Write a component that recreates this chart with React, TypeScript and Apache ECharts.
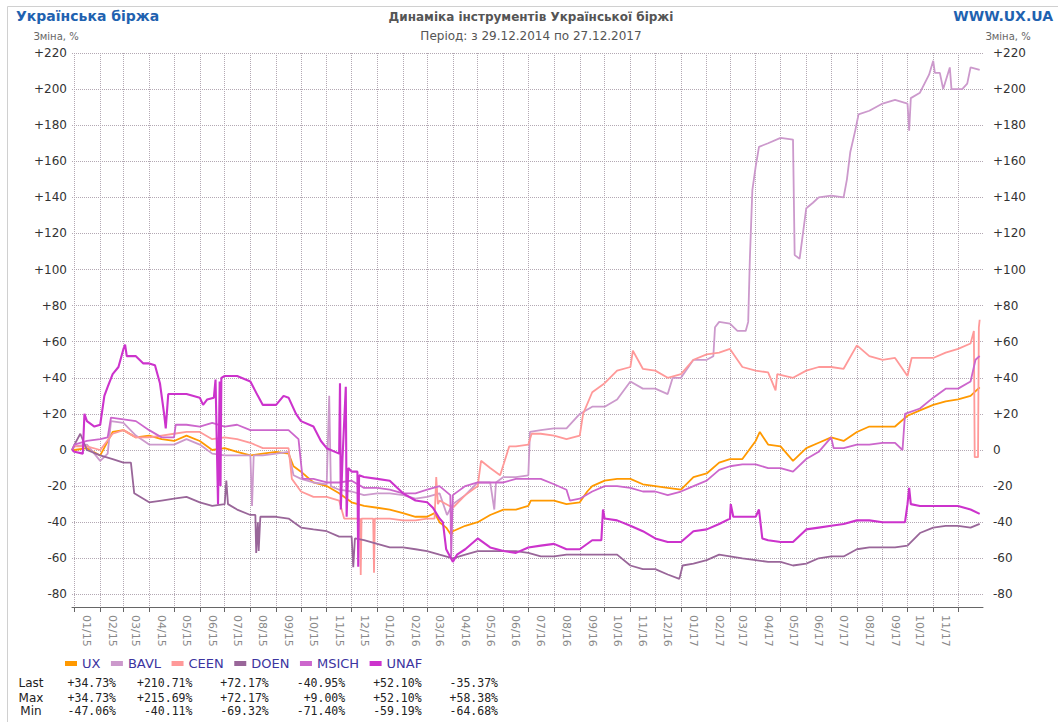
import React, { useEffect, useRef } from "react";
import * as echarts from "echarts";

// ---------- data ----------
const seriesNames = ["UX", "BAVL", "CEEN", "DOEN", "MSICH", "UNAF"];
const seriesColors = ["#ff9900", "#cc99cc", "#ff9999", "#996699", "#cc66cc", "#cc33cc"];

const uxData: [string, number][] = [
  ["2014-12-29", 0], ["2015-01-01", 0], ["2015-01-16", 1], ["2015-02-01", -3], ["2015-02-16", 10],
  ["2015-03-01", 11], ["2015-03-16", 7], ["2015-04-01", 8], ["2015-04-16", 6], ["2015-05-01", 5],
  ["2015-05-16", 8], ["2015-06-01", 5], ["2015-06-16", 0], ["2015-07-01", 1], ["2015-07-16", -1],
  ["2015-08-01", -3], ["2015-08-16", -2], ["2015-09-01", -1], ["2015-09-16", -2], ["2015-09-22", -9],
  ["2015-10-01", -12], ["2015-10-16", -18], ["2015-11-01", -20], ["2015-11-16", -24], ["2015-12-01", -29],
  ["2015-12-16", -31], ["2016-01-01", -32], ["2016-01-16", -33], ["2016-02-01", -35], ["2016-02-16", -37],
  ["2016-03-01", -37], ["2016-03-10", -35], ["2016-03-16", -40], ["2016-03-24", -43], ["2016-03-30", -47.06],
  ["2016-04-01", -45], ["2016-04-16", -42], ["2016-05-01", -40], ["2016-05-16", -36], ["2016-06-01", -33],
  ["2016-06-16", -33], ["2016-07-01", -31], ["2016-07-04", -28], ["2016-07-16", -28], ["2016-08-01", -28],
  ["2016-08-16", -30], ["2016-09-01", -29], ["2016-09-10", -23], ["2016-09-16", -20], ["2016-10-01", -17],
  ["2016-10-16", -16], ["2016-11-01", -16], ["2016-11-16", -19], ["2016-12-01", -20], ["2016-12-16", -21],
  ["2017-01-01", -22], ["2017-01-16", -15], ["2017-02-01", -13], ["2017-02-16", -7], ["2017-03-01", -5],
  ["2017-03-16", -5], ["2017-04-01", 5], ["2017-04-06", 10], ["2017-04-16", 3], ["2017-05-01", 2],
  ["2017-05-16", -6], ["2017-06-01", 1], ["2017-06-16", 4], ["2017-07-01", 7], ["2017-07-16", 5],
  ["2017-08-01", 10], ["2017-08-16", 13], ["2017-09-01", 13], ["2017-09-16", 13], ["2017-10-01", 19],
  ["2017-10-16", 22], ["2017-11-01", 25], ["2017-11-16", 27], ["2017-12-01", 28], ["2017-12-16", 30],
  ["2017-12-27", 34.73],
];

const bavlData: [string, number][] = [
  ["2014-12-29", 0], ["2015-01-01", 2], ["2015-01-16", 3], ["2015-02-01", -6], ["2015-02-10", -2],
  ["2015-02-14", 16], ["2015-03-01", 15], ["2015-03-16", 8], ["2015-04-01", 3], ["2015-04-16", 3],
  ["2015-05-01", 3], ["2015-05-16", 6], ["2015-06-01", 3], ["2015-06-16", -2], ["2015-07-01", -3],
  ["2015-07-16", -3], ["2015-08-01", -3], ["2015-08-03", -31], ["2015-08-05", -3], ["2015-08-16", -3],
  ["2015-09-01", -2], ["2015-09-16", -1], ["2015-09-22", -14], ["2015-10-01", -16], ["2015-10-16", -18],
  ["2015-11-01", -19], ["2015-11-04", 30], ["2015-11-06", -20], ["2015-11-16", -22], ["2015-12-01", -23],
  ["2015-12-16", -25], ["2016-01-01", -24], ["2016-01-16", -24], ["2016-02-01", -25], ["2016-02-16", -27],
  ["2016-03-01", -26], ["2016-03-16", -24], ["2016-03-25", -36], ["2016-04-01", -30], ["2016-04-16", -25],
  ["2016-05-01", -18], ["2016-05-16", -18], ["2016-05-21", -33], ["2016-05-23", -18], ["2016-06-01", -15],
  ["2016-06-16", -15], ["2016-07-01", -14], ["2016-07-03", 10], ["2016-07-16", 11], ["2016-08-01", 12],
  ["2016-08-16", 12], ["2016-09-01", 20], ["2016-09-16", 24], ["2016-10-01", 24], ["2016-10-16", 28],
  ["2016-11-01", 38], ["2016-11-16", 34], ["2016-12-01", 34], ["2016-12-16", 31], ["2016-12-22", 40],
  ["2017-01-01", 40], ["2017-01-16", 50], ["2017-02-01", 50], ["2017-02-09", 52], ["2017-02-11", 68],
  ["2017-02-16", 71], ["2017-03-01", 70], ["2017-03-10", 66], ["2017-03-20", 66], ["2017-03-23", 71],
  ["2017-03-25", 106], ["2017-03-28", 144], ["2017-04-01", 157], ["2017-04-05", 168], ["2017-04-16", 170],
  ["2017-05-01", 173], ["2017-05-16", 172], ["2017-05-18", 108], ["2017-05-24", 106], ["2017-05-28", 120],
  ["2017-06-01", 134], ["2017-06-09", 137], ["2017-06-16", 140], ["2017-07-01", 141], ["2017-07-16", 140],
  ["2017-07-20", 150], ["2017-07-24", 165], ["2017-07-30", 177], ["2017-08-03", 186], ["2017-08-16", 188],
  ["2017-09-01", 192], ["2017-09-16", 194], ["2017-10-01", 192], ["2017-10-03", 177], ["2017-10-05", 195],
  ["2017-10-16", 198], ["2017-10-27", 208], ["2017-11-01", 215.69], ["2017-11-03", 209], ["2017-11-09", 209],
  ["2017-11-13", 200], ["2017-11-21", 212], ["2017-11-23", 200], ["2017-12-06", 200], ["2017-12-12", 203],
  ["2017-12-16", 212], ["2017-12-27", 210.71],
];

const ceenData: [string, number][] = [
  ["2014-12-29", 0], ["2015-01-01", 2], ["2015-01-16", 2], ["2015-02-01", 0], ["2015-02-16", 9],
  ["2015-03-01", 11], ["2015-03-16", 7], ["2015-04-01", 7], ["2015-04-16", 8], ["2015-05-01", 9],
  ["2015-05-16", 10], ["2015-06-01", 10], ["2015-06-16", 6], ["2015-07-01", 7], ["2015-07-16", 6],
  ["2015-08-01", 4], ["2015-08-16", 1], ["2015-09-01", 1], ["2015-09-16", 1], ["2015-09-20", -16],
  ["2015-10-01", -23], ["2015-10-16", -26], ["2015-11-01", -26], ["2015-11-16", -28], ["2015-11-22", -38],
  ["2015-12-11", -38], ["2015-12-12", -69.32], ["2015-12-13", -38], ["2015-12-27", -38], ["2015-12-28", -68],
  ["2015-12-29", -38], ["2016-01-16", -38], ["2016-02-01", -39], ["2016-02-16", -39], ["2016-03-01", -38],
  ["2016-03-10", -38], ["2016-03-12", -15], ["2016-03-14", -30], ["2016-03-16", -28], ["2016-04-01", -32],
  ["2016-04-16", -25], ["2016-05-01", -20], ["2016-05-05", -6], ["2016-05-16", -10], ["2016-05-28", -14],
  ["2016-06-08", 2], ["2016-06-16", 2], ["2016-07-01", 3], ["2016-07-05", 9], ["2016-07-16", 9],
  ["2016-08-01", 8], ["2016-08-16", 6], ["2016-09-01", 8], ["2016-09-05", 20], ["2016-09-16", 32],
  ["2016-10-01", 37], ["2016-10-16", 44], ["2016-11-01", 46], ["2016-11-04", 55], ["2016-11-16", 45],
  ["2016-12-01", 44], ["2016-12-16", 40], ["2017-01-01", 42], ["2017-01-16", 50], ["2017-02-01", 53],
  ["2017-02-16", 54], ["2017-03-01", 56], ["2017-03-16", 46], ["2017-04-01", 44], ["2017-04-16", 43],
  ["2017-04-25", 33], ["2017-04-27", 42], ["2017-05-16", 40], ["2017-06-01", 44], ["2017-06-16", 46],
  ["2017-07-01", 46], ["2017-07-16", 45], ["2017-08-01", 58], ["2017-08-16", 52], ["2017-09-01", 50],
  ["2017-09-16", 51], ["2017-10-01", 41], ["2017-10-06", 51], ["2017-10-16", 51], ["2017-11-01", 51],
  ["2017-11-16", 54], ["2017-12-01", 56], ["2017-12-16", 59], ["2017-12-20", 66], ["2017-12-21", -4],
  ["2017-12-25", -4], ["2017-12-26", 68], ["2017-12-27", 72.17],
];

const doenData: [string, number][] = [
  ["2014-12-29", 0], ["2015-01-01", 3], ["2015-01-08", 9], ["2015-01-16", 0], ["2015-02-01", -3],
  ["2015-02-16", -5], ["2015-03-01", -7], ["2015-03-10", -7], ["2015-03-14", -24], ["2015-04-01", -29],
  ["2015-04-16", -28], ["2015-05-01", -27], ["2015-05-16", -26], ["2015-06-01", -29], ["2015-06-16", -31],
  ["2015-07-01", -30], ["2015-07-03", -17], ["2015-07-05", -30], ["2015-07-16", -33], ["2015-08-01", -36],
  ["2015-08-07", -36], ["2015-08-08", -57], ["2015-08-10", -40], ["2015-08-11", -56], ["2015-08-13", -37],
  ["2015-08-16", -37], ["2015-09-01", -37], ["2015-09-16", -38], ["2015-10-01", -43], ["2015-10-16", -44],
  ["2015-11-01", -45], ["2015-11-16", -48], ["2015-12-01", -48], ["2015-12-03", -65], ["2015-12-05", -49],
  ["2015-12-16", -50], ["2016-01-01", -52], ["2016-01-16", -54], ["2016-02-01", -54], ["2016-02-16", -55],
  ["2016-03-01", -56], ["2016-03-16", -58], ["2016-04-01", -60], ["2016-04-16", -58], ["2016-05-01", -56],
  ["2016-05-16", -56], ["2016-06-01", -56], ["2016-06-16", -56], ["2016-07-01", -57], ["2016-07-16", -59],
  ["2016-08-01", -59], ["2016-08-16", -58], ["2016-09-01", -58], ["2016-09-16", -58], ["2016-10-01", -58],
  ["2016-10-16", -58], ["2016-11-01", -64], ["2016-11-16", -66], ["2016-12-01", -66], ["2016-12-16", -69],
  ["2016-12-30", -71.4], ["2017-01-03", -64], ["2017-01-16", -63], ["2017-02-01", -61], ["2017-02-16", -58],
  ["2017-03-01", -59], ["2017-03-16", -60], ["2017-04-01", -61], ["2017-04-16", -62], ["2017-05-01", -62],
  ["2017-05-16", -64], ["2017-06-01", -63], ["2017-06-16", -60], ["2017-07-01", -59], ["2017-07-16", -59],
  ["2017-08-01", -55], ["2017-08-16", -54], ["2017-09-01", -54], ["2017-09-16", -54], ["2017-10-01", -53],
  ["2017-10-16", -46], ["2017-11-01", -43], ["2017-11-16", -42], ["2017-12-01", -42], ["2017-12-16", -43],
  ["2017-12-27", -40.95],
];

const msichData: [string, number][] = [
  ["2014-12-29", 0], ["2015-01-01", 3], ["2015-01-16", 5], ["2015-02-01", 6], ["2015-02-10", 7],
  ["2015-02-14", 18], ["2015-03-01", 17], ["2015-03-16", 16], ["2015-04-01", 11], ["2015-04-16", 7],
  ["2015-05-01", 7], ["2015-05-03", 14], ["2015-05-16", 14], ["2015-06-01", 13], ["2015-06-16", 15],
  ["2015-07-01", 13], ["2015-07-16", 14], ["2015-08-01", 11], ["2015-08-16", 11], ["2015-09-01", 11],
  ["2015-09-16", 11], ["2015-09-28", 6], ["2015-10-03", -16], ["2015-10-16", -16], ["2015-11-01", -18],
  ["2015-11-16", -18], ["2015-12-01", -17], ["2015-12-16", -21], ["2016-01-01", -21], ["2016-01-16", -22],
  ["2016-02-01", -24], ["2016-02-16", -24], ["2016-03-01", -22], ["2016-03-16", -20], ["2016-03-29", -25],
  ["2016-03-30", -59.19], ["2016-04-01", -25], ["2016-04-16", -20], ["2016-05-01", -18], ["2016-05-16", -18],
  ["2016-06-01", -18], ["2016-06-16", -16], ["2016-07-01", -16], ["2016-07-16", -16], ["2016-08-01", -19],
  ["2016-08-16", -22], ["2016-08-20", -28], ["2016-09-01", -27], ["2016-09-16", -23], ["2016-10-01", -20],
  ["2016-10-16", -20], ["2016-11-01", -21], ["2016-11-16", -23], ["2016-12-01", -23], ["2016-12-16", -25],
  ["2017-01-01", -23], ["2017-01-16", -20], ["2017-02-01", -17], ["2017-02-16", -11], ["2017-03-01", -9],
  ["2017-03-16", -8], ["2017-04-01", -8], ["2017-04-16", -10], ["2017-05-01", -10], ["2017-05-16", -12],
  ["2017-06-01", -5], ["2017-06-16", -1], ["2017-07-01", 7], ["2017-07-04", 1], ["2017-07-16", 1],
  ["2017-08-01", 3], ["2017-08-16", 3], ["2017-09-01", 4], ["2017-09-16", 4], ["2017-09-25", 0],
  ["2017-09-28", 20], ["2017-10-16", 23], ["2017-11-01", 29], ["2017-11-16", 34], ["2017-12-01", 34],
  ["2017-12-16", 38], ["2017-12-22", 50], ["2017-12-27", 52.1],
];

const unafData: [string, number][] = [
  ["2014-12-29", 0], ["2015-01-01", -1], ["2015-01-11", -2], ["2015-01-13", 20], ["2015-01-16", 16],
  ["2015-01-25", 13], ["2015-02-01", 14], ["2015-02-06", 30], ["2015-02-10", 35], ["2015-02-16", 42],
  ["2015-02-23", 46], ["2015-03-01", 56], ["2015-03-03", 58.38], ["2015-03-05", 52], ["2015-03-16", 52],
  ["2015-03-25", 48], ["2015-04-01", 48], ["2015-04-08", 47], ["2015-04-14", 37], ["2015-04-19", 20],
  ["2015-04-21", 12], ["2015-04-24", 31], ["2015-05-01", 31], ["2015-05-16", 31], ["2015-06-01", 29],
  ["2015-06-05", 25], ["2015-06-10", 28], ["2015-06-18", 29], ["2015-06-20", 39], ["2015-06-23", -30],
  ["2015-06-25", 38], ["2015-06-26", -20], ["2015-06-27", 40], ["2015-07-01", 41], ["2015-07-16", 41],
  ["2015-08-01", 38], ["2015-08-10", 30], ["2015-08-16", 25], ["2015-09-01", 25], ["2015-09-10", 30],
  ["2015-09-16", 29], ["2015-09-25", 20], ["2015-10-01", 16], ["2015-10-16", 13], ["2015-10-25", 5],
  ["2015-11-01", 1], ["2015-11-16", -2], ["2015-11-17", 37], ["2015-11-18", -33], ["2015-11-20", -5],
  ["2015-11-24", 35], ["2015-11-25", -37], ["2015-11-27", -10], ["2015-12-01", -12], ["2015-12-08", -12],
  ["2015-12-09", -64.68], ["2015-12-10", -14], ["2015-12-16", -15], ["2016-01-01", -16], ["2016-01-16", -17],
  ["2016-02-01", -24], ["2016-02-16", -28], ["2016-03-01", -29], ["2016-03-08", -32], ["2016-03-16", -38],
  ["2016-03-20", -40], ["2016-03-24", -55], ["2016-04-01", -62], ["2016-04-06", -58], ["2016-04-16", -55],
  ["2016-05-01", -49], ["2016-05-16", -54], ["2016-06-01", -56], ["2016-06-16", -57], ["2016-07-01", -54],
  ["2016-07-16", -53], ["2016-08-01", -52], ["2016-08-16", -55], ["2016-09-01", -55], ["2016-09-16", -50],
  ["2016-09-27", -50], ["2016-09-29", -33], ["2016-10-01", -38], ["2016-10-16", -39], ["2016-11-01", -42],
  ["2016-11-16", -45], ["2016-12-01", -49], ["2016-12-16", -51], ["2017-01-01", -51], ["2017-01-16", -45],
  ["2017-02-01", -44], ["2017-02-16", -41], ["2017-03-01", -38], ["2017-03-02", -30], ["2017-03-05", -37],
  ["2017-03-16", -37], ["2017-04-01", -37], ["2017-04-05", -33], ["2017-04-09", -49], ["2017-04-16", -50],
  ["2017-05-01", -51], ["2017-05-16", -51], ["2017-06-01", -44], ["2017-06-16", -43], ["2017-07-01", -42],
  ["2017-07-16", -41], ["2017-08-01", -39], ["2017-08-16", -39], ["2017-09-01", -40], ["2017-09-16", -40],
  ["2017-09-28", -40], ["2017-10-01", -30], ["2017-10-03", -21], ["2017-10-05", -30], ["2017-10-16", -31],
  ["2017-11-01", -31], ["2017-11-16", -31], ["2017-12-01", -31], ["2017-12-16", -33], ["2017-12-27", -35.37],
];

const lastValues = [34.73, 210.71, 72.17, -40.95, 52.1, -35.37];
const maxValues = [34.73, 215.69, 72.17, 9.0, 52.1, 58.38];
const minValues = [-47.06, -40.11, -69.32, -71.4, -59.19, -64.68];
const statRows = ["Last", "Max", "Min"];

const yTickValues = [-80, -60, -40, -20, 0, 20, 40, 60, 80, 100, 120, 140, 160, 180, 200, 220];
const yMin = -87;
const yMax = 220;
const periodStart = "2014-12-29";
const periodEnd = "2017-12-31";

// ---------- helpers ----------
const toTs = (s: string) => {
  const [y, m, d] = s.split("-").map(Number);
  return Date.UTC(y, m - 1, d);
};
const pad2 = (n: number) => (n < 10 ? "0" + n : "" + n);
const monthStarts: number[] = [];
const monthLabelAt: number[] = [];
const monthTickLabels: string[] = [];
for (let y = 2015; y <= 2017; y++) {
  for (let m = 0; m < 12; m++) {
    monthStarts.push(Date.UTC(y, m, 1));
    if (!(y === 2017 && m === 11)) {
      monthLabelAt.push(Date.UTC(y, m, 16));
      monthTickLabels.push(pad2(m + 1) + "/" + String(y).slice(2));
    }
  }
}
const fmtY = (v: number) => (v > 0 ? "+" + v : "" + v);
const fmtPct = (v: number) => (v >= 0 ? "+" : "-") + Math.abs(v).toFixed(2) + "%";

const allData = [uxData, bavlData, ceenData, doenData, msichData, unafData];

const FONT = "DejaVu Sans";

export default function App() {
  const ref = useRef<HTMLDivElement>(null);
  useEffect(() => {
    if (!ref.current) return;
    const chart = echarts.init(ref.current, null, { renderer: "svg" });
    const gridLine = { show: true, lineStyle: { color: "#b3a8b3", type: "dotted" as const, width: 1 } };

    const baseGraphics: any[] = [
      { type: "line", shape: { x1: 7.5, y1: 6.5, x2: 1058, y2: 6.5 }, style: { stroke: "#d0d0d0", lineWidth: 1 } },
      { type: "line", shape: { x1: 7.5, y1: 6.5, x2: 7.5, y2: 722 }, style: { stroke: "#d0d0d0", lineWidth: 1 } },
      {
        type: "text",
        left: 16,
        top: 9,
        style: { text: "Українська біржа", font: "bold 14px " + FONT, fill: "#1f62b0" },
      },
      {
        type: "text",
        right: 5,
        top: 9,
        style: { text: "WWW.UX.UA", font: "bold 14px " + FONT, fill: "#1f62b0" },
      },
      {
        type: "text",
        x: 531,
        y: 17,
        style: {
          text: "Динаміка інструментів Української біржі",
          font: "bold 12px " + FONT,
          fill: "#555",
          textAlign: "center",
          textVerticalAlign: "middle",
        },
      },
      {
        type: "text",
        x: 531,
        y: 36,
        style: {
          text: "Період: з 29.12.2014 по 27.12.2017",
          font: "12px " + FONT,
          fill: "#555",
          textAlign: "center",
          textVerticalAlign: "middle",
        },
      },
      {
        type: "text",
        x: 56,
        y: 36,
        style: { text: "Зміна, %", font: "10px " + FONT, fill: "#666", textAlign: "center", textVerticalAlign: "middle" },
      },
      {
        type: "text",
        x: 1008,
        y: 36,
        style: { text: "Зміна, %", font: "10px " + FONT, fill: "#666", textAlign: "center", textVerticalAlign: "middle" },
      },
    ];

    statRows.forEach((r, ri) => {
      const yy = 683 + ri * 15 - (ri === 2 ? 2 : 0);
      baseGraphics.push({
        type: "text",
        x: 31,
        y: yy,
        style: { text: r, font: "12px " + FONT, fill: "#222", textAlign: "center", textVerticalAlign: "middle" },
      });
      const vals = ri === 0 ? lastValues : ri === 1 ? maxValues : minValues;
      vals.forEach((v, ci) => {
        baseGraphics.push({
          type: "text",
          x: 116 + ci * 76.4,
          y: yy,
          style: {
            text: fmtPct(v),
            font: "11.5px 'DejaVu Sans Mono'",
            fill: "#222",
            textAlign: "right",
            textVerticalAlign: "middle",
          },
        });
      });
    });

    chart.setOption({
      animation: false,
      textStyle: { fontFamily: FONT },
      grid: { left: 72, right: 75, top: 53, bottom: 115, containLabel: false },
      xAxis: {
        type: "value",
        min: toTs(periodStart),
        max: toTs(periodEnd),
        position: "bottom",
        axisLine: { show: true, onZero: false, lineStyle: { color: "#666", width: 1 } },
        axisTick: { show: true, customValues: monthStarts, length: 5, lineStyle: { color: "#666" } },
        axisLabel: { show: false },
        splitLine: gridLine,
      },
      yAxis: [
        {
          type: "value",
          min: yMin,
          max: yMax,
          position: "left",
          axisLine: { show: false },
          axisTick: { show: false, customValues: yTickValues },
          axisLabel: { customValues: yTickValues, formatter: fmtY, color: "#333", fontSize: 12, margin: 5 },
          splitLine: gridLine,
        },
        {
          type: "value",
          min: yMin,
          max: yMax,
          position: "right",
          axisLine: { show: false },
          axisTick: { show: false, customValues: yTickValues },
          axisLabel: { customValues: yTickValues, formatter: fmtY, color: "#333", fontSize: 12, margin: 10 },
          splitLine: { show: false },
        },
      ],
      legend: {
        left: 60,
        top: 652,
        itemWidth: 12,
        itemHeight: 5,
        itemGap: 10.5,
        selectedMode: false,
        data: seriesNames.map((n) => ({ name: n, icon: "rect" })),
        textStyle: { color: "#3c34a0", fontSize: 13, fontFamily: FONT, width: 50 },
      },
      series: seriesNames.map((n, i) => ({
        name: n,
        type: "line",
        xAxisIndex: 0,
        yAxisIndex: 0,
        showSymbol: false,
        symbol: "none",
        color: seriesColors[i],
        lineStyle: { color: seriesColors[i], width: n === "UNAF" ? 2.1 : 1.8 },
        data: allData[i].map(([d, v]) => [toTs(d), v]),
      })),
      graphic: baseGraphics,
    });

    // month labels placed through the x axis scale
    const labelGraphics = monthLabelAt.map((ts, i) => {
      const p = chart.convertToPixel({ xAxisIndex: 0, yAxisIndex: 0 }, [ts, yMin]) as number[];
      return {
        type: "text",
        x: p[0],
        y: p[1] + 8,
        rotation: -Math.PI / 2,
        style: {
          text: monthTickLabels[i],
          font: "11px " + FONT,
          fill: "#888",
          textAlign: "left",
          textVerticalAlign: "middle",
        },
      };
    });
    chart.setOption({ graphic: [...baseGraphics, ...labelGraphics] });

    return () => chart.dispose();
  }, []);
  return (
    <div
      ref={ref}
      style={{ position: "fixed", left: 0, top: 0, width: 1058, height: 722, background: "#fff" }}
    />
  );
}
